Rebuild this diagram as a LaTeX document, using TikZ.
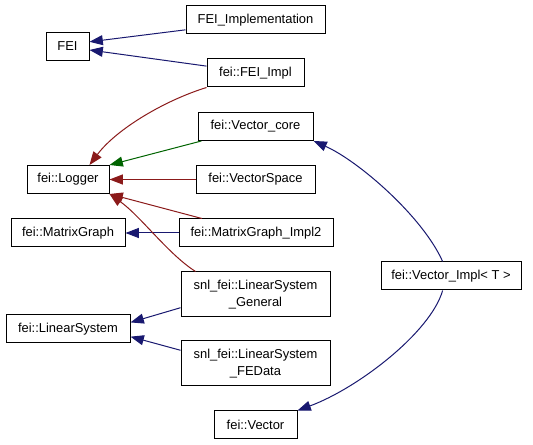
\documentclass[tikz,border=0pt]{standalone}
\usepackage{fontspec}
\setmainfont{Liberation Sans}
\usepackage{tikz}
\usetikzlibrary{arrows.meta}
\definecolor{inhnavy}{HTML}{191970}
\definecolor{inhred}{HTML}{8B1A1A}
\definecolor{inhgreen}{HTML}{006400}

\begin{document}
\begin{tikzpicture}[x=0.75pt, y=-0.75pt,
    cls/.style={draw, line width=0.75pt, inner sep=0pt, align=center,
        minimum width=#1*0.75pt, minimum height=28*0.75pt,
        font=\fontsize{9.7}{12.7}\selectfont},
    tall/.style={minimum height=45*0.75pt},
    pub/.style={draw=inhnavy, line width=0.75pt, {Triangle[length=10pt, width=7.5pt]}-},
    prot/.style={draw=inhgreen, line width=0.75pt, {Triangle[length=10pt, width=7.5pt]}-},
    priv/.style={draw=inhred, line width=0.75pt, {Triangle[length=10pt, width=7.5pt]}-}]
    \useasboundingbox [fill=white] (0,0) rectangle (533,445);

    % Left column
    \node[cls=43] (fei) at (67.5,46.5) {FEI};
    \node[cls=82] (logger) at (68,179.5) {fei::Logger};
    \node[cls=114] (matrixgraph) at (68,233) {fei::MatrixGraph};
    \node[cls=124] (linearsystem) at (68,329) {fei::LinearSystem};

    % Middle column
    \node[cls=139] (feiimplementation) at (255.5,20) {FEI\_Implementation};
    \node[cls=97] (feiimpl) at (255.5,73) {fei::FEI\_Impl};
    \node[cls=115] (vectorcore) at (255.5,126.5) {fei::Vector\_core};
    \node[cls=119] (vectorspace) at (255.5,179.5) {fei::VectorSpace};
    \node[cls=154] (matrixgraphimpl) at (256,233) {fei::MatrixGraph\_Impl2};
    \node[cls=149, tall] (lsgeneral) at (255.5,294.5) {snl\_fei::LinearSystem\\\_General};
    \node[cls=149, tall] (lsfedata) at (255.5,363.5) {snl\_fei::LinearSystem\\\_FEData};
    \node[cls=83] (vector) at (255.5,425) {fei::Vector};

    % Right column
    \node[cls=140] (vectorimpl) at (451,276) {fei::Vector\_Impl< T >};

    % Public inheritance
    \draw[pub] (fei.12) -- (feiimplementation.188);
    \draw[pub] (fei.-9) -- (feiimpl.172);
    \draw[pub] (matrixgraph) -- (matrixgraphimpl);
    \draw[pub] (linearsystem.6) -- (lsgeneral.190);
    \draw[pub] (linearsystem.-7) -- (lsfedata.170);
    \draw[pub] (vectorcore.-14) .. controls +(45,20) and +(-20,-45) .. (vectorimpl.120);
    \draw[pub] (vector.north east) .. controls +(60,-22) and +(-12,42) .. (vectorimpl.240);

    % Protected inheritance
    \draw[prot] (logger.north east) -- (vectorcore.195);

    % Private inheritance
    \draw[priv] (logger.34) .. controls +(27,-36) and +(-42,13) .. (feiimpl.south west);
    \draw[priv] (logger) -- (vectorspace);
    \draw[priv] (logger.south east) -- (matrixgraphimpl.165);
    \draw[priv] (logger.south east) .. controls +(31,22) and +(-27,-17) .. (lsgeneral.159);
\end{tikzpicture}
\end{document}
